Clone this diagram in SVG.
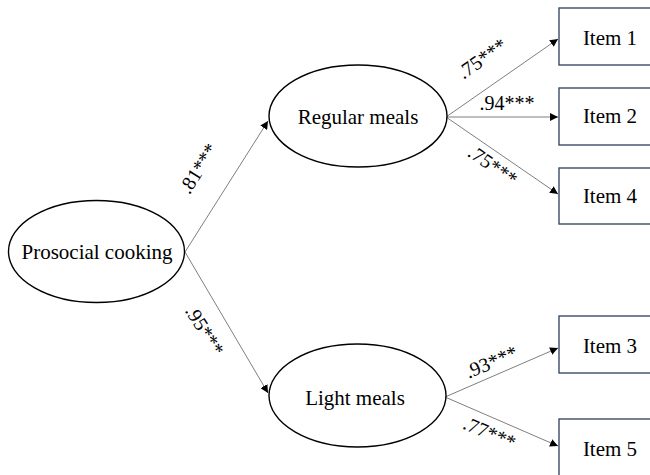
<svg xmlns="http://www.w3.org/2000/svg" width="650" height="475" viewBox="0 0 650 475">
  <defs>
    <marker id="arrow" viewBox="0 0 10 10" refX="10" refY="5" markerWidth="8" markerHeight="8" markerUnits="userSpaceOnUse" orient="auto">
      <path d="M0,0 L10,5 L0,10 z" fill="#000"/>
    </marker>
    <style>
      .latent { fill: #fff; stroke: #000; stroke-width: 1.4; }
      .item { fill: #fff; stroke: #3b4a66; stroke-width: 1.4; }
      .lbl { font-family: "Liberation Serif", "Times New Roman", serif; font-size: 21px; fill: #000; text-anchor: middle; }
      .coef { font-family: "Liberation Serif", "Times New Roman", serif; font-size: 20px; fill: #000; text-anchor: middle; }
      .path { stroke: #7f7f7f; stroke-width: 1; fill: none; marker-end: url(#arrow); }
    </style>
  </defs>
  <rect width="650" height="475" fill="#fff"/>

  <!-- paths with standardized loadings -->
  <g id="connectors">
    <line class="path" x1="185" y1="252" x2="268" y2="121"/>
    <line class="path" x1="185" y1="252" x2="268" y2="393"/>
    <line class="path" x1="446" y1="117" x2="558" y2="39"/>
    <line class="path" x1="446" y1="117" x2="558" y2="117"/>
    <line class="path" x1="446" y1="117" x2="558" y2="194"/>
    <line class="path" x1="445" y1="397" x2="558" y2="348"/>
    <line class="path" x1="445" y1="397" x2="558" y2="446"/>
    <text class="coef" transform="translate(204,172) rotate(-58)">.81***</text>
    <text class="coef" transform="translate(199,334) rotate(58)">.95***</text>
    <text class="coef" transform="translate(486,64) rotate(-35)">.75***</text>
    <text class="coef" x="507" y="110">.94***</text>
    <text class="coef" transform="translate(489,171) rotate(35)">.75***</text>
    <text class="coef" transform="translate(494,368) rotate(-23)">.93***</text>
    <text class="coef" transform="translate(487,439) rotate(23)">.77***</text>
  </g>

  <g id="prosocial-cooking">
    <ellipse class="latent" cx="96.5" cy="251.5" rx="88" ry="51"/>
    <text class="lbl" x="97" y="259">Prosocial cooking</text>
  </g>
  <g id="regular-meals">
    <ellipse class="latent" cx="358" cy="116" rx="89" ry="51"/>
    <text class="lbl" x="358" y="124">Regular meals</text>
  </g>
  <g id="light-meals">
    <ellipse class="latent" cx="357.5" cy="395.5" rx="88.5" ry="51.5"/>
    <text class="lbl" x="355" y="405">Light meals</text>
  </g>

  <g id="item-1">
    <rect class="item" x="559" y="8" width="110" height="57"/>
    <text class="lbl" x="610" y="45">Item 1</text>
  </g>
  <g id="item-2">
    <rect class="item" x="559" y="88" width="110" height="57"/>
    <text class="lbl" x="610" y="123">Item 2</text>
  </g>
  <g id="item-4">
    <rect class="item" x="559" y="168" width="110" height="56"/>
    <text class="lbl" x="610" y="203">Item 4</text>
  </g>
  <g id="item-3">
    <rect class="item" x="559" y="316" width="110" height="57"/>
    <text class="lbl" x="610" y="353">Item 3</text>
  </g>
  <g id="item-5">
    <rect class="item" x="559" y="419" width="110" height="70"/>
    <text class="lbl" x="610" y="456">Item 5</text>
  </g>
</svg>
